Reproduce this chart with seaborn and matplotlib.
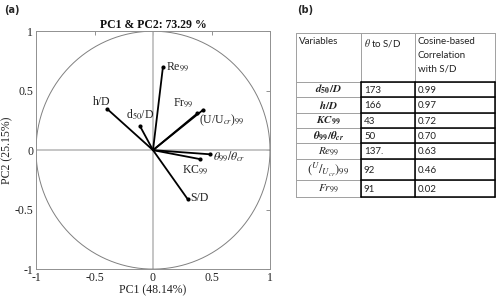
import numpy as np
import pandas as pd
import matplotlib
matplotlib.use("Agg")
import matplotlib.pyplot as plt
import seaborn as sns

# ---------------- data ----------------
variables = ["d50/D", "h/D", "Re99", "Fr99", "(U/Ucr)99", "theta99/thetacr", "KC99", "S/D"]
pc1 = [-0.11, -0.39, 0.085, 0.38, 0.43, 0.49, 0.40, 0.295]
pc2 = [0.20, 0.345, 0.70, 0.31, 0.34, -0.035, -0.075, -0.41]
var_labels = [r"d$_{50}$/D", "h/D", r"Re$_{99}$", r"Fr$_{99}$", r"(U/U$_{cr}$)$_{99}$",
              r"$\theta_{99}/\theta_{cr}$", r"KC$_{99}$", "S/D"]
ticks = [-1, -0.5, 0, 0.5, 1]
tick_labels = ["-1", "-0.5", "0", "0.5", "1"]
title = "PC1 & PC2: 73.29 %"
xlabel = "PC1 (48.14%)"
ylabel = "PC2 (25.15%)"

tbl_header = ["Variables", r"$\theta$ to S/D", "Cosine-based\nCorrelation\nwith S/D"]
tbl_vars = [r"$\mathbfit{d}_{\mathbf{50}}\mathbf{/}\mathbfit{D}$",
            r"$\mathbfit{h}\mathbf{/}\mathbfit{D}$",
            r"$\mathbfit{KC}_{\mathbf{99}}$",
            r"$\mathbfit{\theta}_{\mathbf{99}}\mathbf{/}\mathbfit{\theta}_{\mathbfit{cr}}$",
            r"$Re_{99}$",
            r"$({}^{U}/{}_{U_{cr}})_{99}$", r"$Fr_{99}$"]
tbl_theta = ["173", "166", "43", "50", "137.", "92", "91"]
tbl_corr = ["0.99", "0.97", "0.72", "0.70", "0.63", "0.46", "0.02"]

# ---------------- style ----------------
sns.set_style("white")
plt.rcParams["font.family"] = ["Liberation Serif", "DejaVu Serif"]
plt.rcParams["mathtext.fontset"] = "stix"

fig = plt.figure(figsize=(5, 3), dpi=100)
ax = fig.add_axes([0.072, 0.103, 0.468, 0.793])

# reference lines and circle
ax.axhline(0, color="#c0c0c0", lw=1.3, zorder=1)
ax.axvline(0, color="#c0c0c0", lw=1.3, zorder=1)
t = np.linspace(0, 2 * np.pi, 400)
ax.plot(np.cos(t), np.sin(t), color="#808080", lw=0.7, zorder=1)

# vectors via seaborn
rows = []
for v, x, y in zip(variables, pc1, pc2):
    rows.append({"var": v, "x": 0.0, "y": 0.0, "o": 0})
    rows.append({"var": v, "x": x, "y": y, "o": 1})
df = pd.DataFrame(rows)
sns.lineplot(data=df, x="x", y="y", units="var", estimator=None, sort=False,
             color="black", lw=1.3, ax=ax, zorder=3)
ends = pd.DataFrame({"x": pc1, "y": pc2})
sns.scatterplot(data=ends, x="x", y="y", color="black", s=9, ax=ax, zorder=4,
                edgecolor="black", linewidth=0)

offsets = {
    "d50/D": ((0, 3), "center", "bottom"),
    "h/D": ((-4, 1), "center", "bottom"),
    "Re99": ((2, 0), "left", "center"),
    "Fr99": ((-3, 3), "right", "bottom"),
    "(U/Ucr)99": ((-3, -2), "left", "top"),
    "theta99/thetacr": ((2, -1), "left", "center"),
    "KC99": ((-3, -3), "center", "top"),
    "S/D": ((2, 1), "left", "center"),
}
for v, lab, x, y in zip(variables, var_labels, pc1, pc2):
    off, ha, va = offsets[v]
    ax.annotate(lab, (x, y), xytext=off, textcoords="offset points", ha=ha, va=va,
                fontsize=8.5, color="#222222")

ax.set_xlim(-1, 1)
ax.set_ylim(-1, 1)
ax.set_xticks(ticks)
ax.set_xticklabels(tick_labels)
ax.set_yticks(ticks)
ax.set_yticklabels(tick_labels)
ax.tick_params(direction="in", length=3, width=0.6, color="#808080", labelsize=8.5,
               top=True, right=True, pad=2, labelcolor="#222222")
for s in ax.spines.values():
    s.set_color("#909090")
    s.set_linewidth(0.7)
ax.set_xlabel(xlabel, fontsize=8.5, labelpad=0, color="#222222")
ax.set_ylabel(ylabel, fontsize=8.5, labelpad=1, color="#222222")
ax.set_title(title, fontsize=8.5, fontweight="bold", pad=2, color="#111111")

# ---------------- overlay for panel letters and table ----------------
ov = fig.add_axes([0, 0, 1, 1], facecolor="none")
ov.set_xlim(0, 500)
ov.set_ylim(300, 0)
ov.axis("off")
ov.text(4, 10, "(a)", fontsize=7, fontweight="bold", family="DejaVu Sans", va="center")
ov.text(297, 10, "(b)", fontsize=7, fontweight="bold", family="DejaVu Sans", va="center")

xs = [296, 361, 415, 495]
ys = [33, 82, 97, 113, 128, 143, 159, 180, 197]
gray = "#a0a0a0"
for y in ys:
    ov.plot([xs[0], xs[-1]], [y, y], color=gray, lw=0.7)
for x in xs:
    ov.plot([x, x], [ys[0], ys[-1]], color=gray, lw=0.7)
# dark borders on the value cells
for y in ys[1:]:
    ov.plot([xs[1], xs[-1]], [y, y], color="black", lw=1.1)
for x in xs[1:]:
    ov.plot([x, x], [ys[1], ys[-1]], color="black", lw=1.1)

tfont = "Lato"
ov.text(xs[0] + 3, ys[0] + 4, tbl_header[0], fontsize=7, family=tfont, va="top", ha="left",
        color="#222222")
ov.text(xs[1] + 3, ys[0] + 4, tbl_header[1], fontsize=7, family=tfont, va="top", ha="left",
        color="#222222")
ov.text(xs[2] + 3, ys[0] + 4, tbl_header[2], fontsize=7, family=tfont, va="top", ha="left",
        color="#222222", linespacing=1.65)
for i in range(len(tbl_vars)):
    yc = (ys[i + 1] + ys[i + 2]) / 2
    fs = 9 if i == 5 else 8
    ov.text((xs[0] + xs[1]) / 2, yc, tbl_vars[i], fontsize=fs, ha="center", va="center",
            color="#222222")
    ov.text(xs[1] + 3, yc + 1, tbl_theta[i], fontsize=7, family=tfont, ha="left",
            va="center", color="#222222")
    ov.text(xs[2] + 3, yc + 1, tbl_corr[i], fontsize=7, family=tfont, ha="left",
            va="center", color="#222222")

fig.savefig("out.png", dpi=100)
